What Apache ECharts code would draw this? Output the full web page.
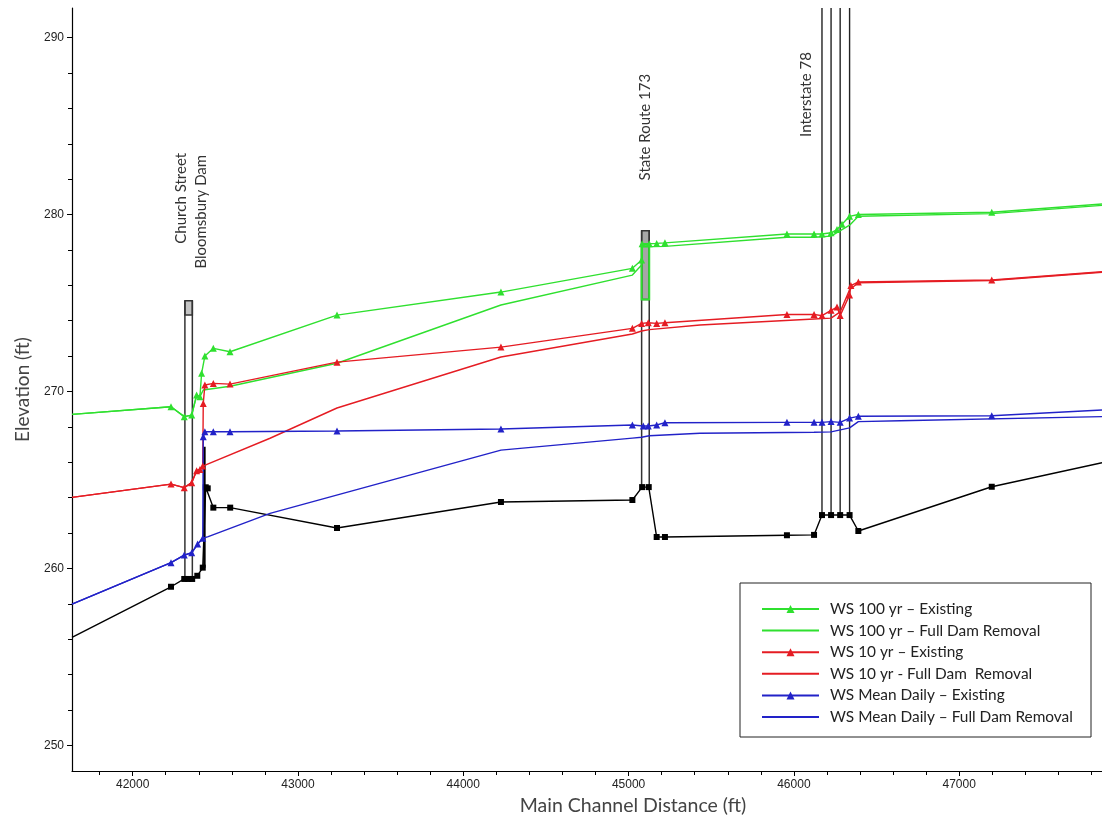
<!DOCTYPE html>
<html>
<head>
<meta charset="utf-8">
<script src="https://cdn.jsdelivr.net/npm/echarts@6/dist/echarts.min.js"></script>
<style>
  html, body { margin: 0; padding: 0; background: #ffffff; }
  #chart { width: 1102px; height: 823px; }
</style>
</head>
<body>
<div id="chart"></div>
<script>
// Axis extents (ft)
const X_MIN = 41633, X_MAX = 47864;
const Y_MIN = 248.56, Y_MAX = 291.67;

const xMajorTicks = [42000, 43000, 44000, 45000, 46000, 47000];
const xMinorTicks = [41800, 42200, 42400, 42600, 42800, 43200, 43400, 43600, 43800,
  44200, 44400, 44600, 44800, 45200, 45400, 45600, 45800, 46200, 46400, 46600, 46800,
  47200, 47400, 47600, 47800];
const yMajorTicks = [250, 260, 270, 280, 290];
const yMinorTicks = [252, 254, 256, 258, 262, 264, 266, 268, 272, 274, 276, 278,
  282, 284, 286, 288];

// Profile lines: [main channel distance (ft), elevation (ft)]
const channelBed = [[41633,256.11],[42232,258.97],[42312,259.41],[42336,259.41],[42360,259.41],
  [42391,259.59],[42424,260.05],[42442,264.59],[42454,264.53],[42488,263.44],[42590,263.44],
  [43236,262.29],[44228,263.76],[45023,263.87],[45082,264.6],[45122,264.6],[45170,261.78],
  [45220,261.78],[45958,261.88],[46122,261.9],[46170,263.02],[46225,263.02],[46280,263.02],
  [46337,263.02],[46390,262.12],[47197,264.62],[47864,265.98]];

const ws100Existing = [[41633,268.71],[42232,269.14],[42312,268.58],[42357,268.67],[42387,269.8],
  [42407,269.71],[42417,271.03],[42437,272.01],[42488,272.44],[42589,272.25],[43236,274.32],
  [44228,275.62],[45023,276.96],[45079,277.43],[45082,278.35],[45125,278.35],[45170,278.37],
  [45220,278.4],[45958,278.9],[46122,278.9],[46170,278.9],[46225,278.97],[46261,279.15],
  [46291,279.45],[46337,279.9],[46390,280.0],[47197,280.13],[47864,280.6]];

const ws100Removal = [[41633,268.71],[42232,269.14],[42312,268.58],[42357,268.67],[42387,269.8],
  [42407,269.71],[42427,270.09],[42589,270.3],[43236,271.6],[44228,274.89],[45023,276.58],
  [45079,277.15],[45082,278.18],[45220,278.2],[45958,278.72],[46122,278.72],[46225,278.78],
  [46337,279.4],[46390,279.9],[47197,280.05],[47864,280.52]];

const ws10Existing = [[41633,264.02],[42232,264.77],[42312,264.57],[42357,264.85],[42387,265.53],
  [42407,265.6],[42424,265.79],[42427,269.33],[42437,270.37],[42488,270.46],[42589,270.42],
  [43236,271.66],[44228,272.51],[45023,273.57],[45079,273.85],[45119,273.89],[45170,273.85],
  [45220,273.89],[45958,274.35],[46122,274.35],[46170,274.29],[46225,274.59],[46261,274.77],
  [46280,274.29],[46337,275.46],[46345,275.99],[46390,276.19],[47197,276.3],[47864,276.77]];

const ws10Removal = [[41633,264.02],[42232,264.77],[42312,264.57],[42357,264.85],[42387,265.53],
  [42407,265.6],[42424,265.79],[42831,267.36],[43236,269.07],[44228,271.95],[45023,273.25],
  [45079,273.42],[45125,273.5],[45432,273.76],[46122,274.1],[46225,274.15],[46280,274.5],
  [46337,275.75],[46390,276.15],[47197,276.27],[47864,276.74]];

const wsMeanExisting = [[41633,257.99],[42232,260.33],[42312,260.76],[42357,260.89],[42393,261.38],
  [42424,261.71],[42427,267.45],[42437,267.73],[42488,267.73],[42589,267.73],[43236,267.77],
  [44228,267.88],[45023,268.11],[45089,268.05],[45119,268.05],[45170,268.11],[45220,268.24],
  [45958,268.26],[46122,268.26],[46170,268.26],[46225,268.3],[46280,268.26],[46337,268.5],
  [46390,268.6],[47197,268.63],[47864,268.96]];

const wsMeanRemoval = [[41633,257.99],[42232,260.33],[42312,260.76],[42357,260.89],[42393,261.38],
  [42424,261.71],[42457,261.8],[42831,263.12],[44228,266.69],[45023,267.37],[45079,267.42],
  [45125,267.5],[45432,267.64],[46122,267.7],[46225,267.72],[46337,267.95],[46390,268.3],
  [46642,268.35],[47864,268.58]];

// Structures
// bridge: [upstream face, downstream face, top of deck, low chord, ground]
const bridgeDecks = [[42316, 42361, 275.13, 274.32, 259.41], [45079, 45125, 279.09, 275.2, 264.6]];
// water surface inside State Route 173 bridge: [face 1, face 2, top, bottom]
const sr173Water = [[45079, 45125, 278.3, 275.2]];
// Interstate 78 faces, standing on the ground at the crossing
const i78Faces = [[46170, 263.02], [46225, 263.02], [46280, 263.02], [46337, 263.02]];
// Bloomsbury Dam crest line
const damLine = [[42434, 260.05], [42434, 266.88]];

const structureNames = ['Church Street', 'Bloomsbury Dam', 'State Route 173', 'Interstate 78'];
const structureLabelPos = [[42296, 280.92], [42417, 280.16], [45099, 284.94], [46073, 286.78]];

const seriesNames = [
  'WS 100 yr \u2013 Existing',
  'WS 100 yr \u2013 Full Dam Removal',
  'WS 10 yr \u2013 Existing',
  'WS 10 yr - Full Dam  Removal',
  'WS Mean Daily \u2013 Existing',
  'WS Mean Daily \u2013 Full Dam Removal'
];

const GREEN = '#2fe02f', RED = '#e51c23', BLUE = '#2222c8';
const UI_FONT = 'Lato, "Open Sans", sans-serif';
const TICK_FONT = '"Liberation Sans", Arial, sans-serif';

function profile(name, data, color, marker, z, size) {
  return {
    type: 'line', name: name, z: z,
    data: data.map((p, i) => (i === 0 || i === data.length - 1) ? { value: p, symbol: 'none' } : p),
    symbol: marker || 'none', symbolSize: size || 7, showSymbol: !!marker,
    lineStyle: { color: color, width: 1.4 }, itemStyle: { color: color },
    emphasis: { disabled: true }, animation: false, clip: true
  };
}

// legend entries: plain line for the dam-removal runs
const legendItems = seriesNames.map((n, i) => (i % 2 === 1) ? { name: n, itemStyle: { opacity: 0 } } : { name: n });

const chart = echarts.init(document.getElementById('chart'), null, { renderer: 'canvas' });

chart.setOption({
  animation: false,
  backgroundColor: '#ffffff',
  grid: { left: 72, right: 0, top: 8, bottom: 52, containLabel: false },
  xAxis: [{
    type: 'value', min: X_MIN, max: X_MAX,
    axisLine: { show: true, lineStyle: { color: '#000', width: 1.2 } },
    axisTick: { show: true, length: 5, customValues: xMajorTicks, lineStyle: { color: '#000' } },
    axisLabel: { customValues: xMajorTicks, margin: 8, color: '#222', fontSize: 12,
      fontFamily: TICK_FONT, formatter: (v) => String(v) },
    splitLine: { show: false }
  }, {
    type: 'value', min: X_MIN, max: X_MAX, position: 'bottom',
    axisLine: { show: false },
    axisTick: { show: true, length: 4, customValues: xMinorTicks, lineStyle: { color: '#000' } },
    axisLabel: { show: false }, splitLine: { show: false }
  }],
  yAxis: [{
    type: 'value', min: Y_MIN, max: Y_MAX,
    name: 'Elevation (ft)', nameLocation: 'middle', nameGap: 40, nameRotate: 90,
    nameTextStyle: { fontFamily: UI_FONT, fontSize: 19, color: '#444' },
    axisLine: { show: true, lineStyle: { color: '#000', width: 1.2 } },
    axisTick: { show: true, length: 5, customValues: yMajorTicks, lineStyle: { color: '#000' } },
    axisLabel: { customValues: yMajorTicks, margin: 8, color: '#222', fontSize: 12,
      fontFamily: TICK_FONT, formatter: (v) => String(v) },
    splitLine: { show: false }
  }, {
    type: 'value', min: Y_MIN, max: Y_MAX, position: 'left',
    axisLine: { show: false },
    axisTick: { show: true, length: 4, customValues: yMinorTicks, lineStyle: { color: '#000' } },
    axisLabel: { show: false }, splitLine: { show: false }
  }],
  legend: {
    data: legendItems, orient: 'vertical', left: 756, top: 596,
    itemWidth: 57, itemHeight: 10, itemGap: 5.6, selectedMode: false, z: 20,
    textStyle: { fontFamily: UI_FONT, fontSize: 15.4, color: '#222', lineHeight: 16, padding: [0, 0, 0, 6] }
  },
  graphic: [
    { type: 'rect', z: 15, shape: { x: 740, y: 583, width: 351, height: 154 },
      style: { fill: '#ffffff', stroke: '#222', lineWidth: 1 } },
    { type: 'text', z: 15, x: 633, y: 806,
      style: { text: 'Main Channel Distance (ft)', fontFamily: UI_FONT, fontSize: 19.5, fill: '#444',
        align: 'center', verticalAlign: 'middle' } }
  ],
  series: [
    {
      type: 'custom', name: 'bridges', z: 1, silent: true, animation: false,
      data: bridgeDecks,
      encode: { x: [0, 1], y: [2, 3, 4] },
      renderItem: function (params, api) {
        const a = api.coord([api.value(0), api.value(2)]);
        const b = api.coord([api.value(1), api.value(3)]);
        const g = api.coord([api.value(0), api.value(4)]);
        const b2 = api.coord([api.value(1), api.value(4)]);
        return {
          type: 'group', children: [
            { type: 'rect', shape: { x: a[0], y: a[1], width: b[0] - a[0], height: b[1] - a[1] },
              style: { fill: params.dataIndex === 0 ? '#c4c4c4' : '#a6a6a6', stroke: '#333', lineWidth: 1.5 } },
            { type: 'line', shape: { x1: a[0], y1: a[1], x2: g[0], y2: g[1] }, style: { stroke: '#333', lineWidth: 1.5 } },
            { type: 'line', shape: { x1: b[0], y1: a[1], x2: b2[0], y2: b2[1] }, style: { stroke: '#333', lineWidth: 1.5 } }
          ]
        };
      }
    },
    {
      type: 'custom', name: 'sr173 water', z: 3, silent: true, animation: false,
      data: sr173Water,
      encode: { x: [0, 1], y: [2, 3] },
      renderItem: function (params, api) {
        const a = api.coord([api.value(0), api.value(2)]);
        const b = api.coord([api.value(1), api.value(3)]);
        return { type: 'rect', shape: { x: a[0], y: a[1], width: b[0] - a[0], height: b[1] - a[1] },
          style: { fill: 'none', stroke: GREEN, lineWidth: 2 } };
      }
    },
    {
      type: 'custom', name: 'i78', z: 1, silent: true, animation: false,
      data: i78Faces,
      encode: { x: 0, y: 1 },
      renderItem: function (params, api) {
        const g = api.coord([api.value(0), api.value(1)]);
        const t = api.coord([api.value(0), Y_MAX]);
        return { type: 'line', shape: { x1: g[0], y1: g[1], x2: t[0], y2: t[1] },
          style: { stroke: '#222', lineWidth: 1.4 } };
      }
    },
    {
      type: 'line', name: 'dam', z: 2, data: damLine, symbol: 'none',
      lineStyle: { color: '#000', width: 2.5 }, animation: false, silent: true
    },
    {
      type: 'custom', name: 'labels', z: 4, silent: true, animation: false,
      data: structureLabelPos,
      encode: { x: 0, y: 1 },
      renderItem: function (params, api) {
        const p = api.coord([api.value(0), api.value(1)]);
        return { type: 'text', x: p[0], y: p[1], rotation: Math.PI / 2,
          style: { text: structureNames[params.dataIndex], fontFamily: UI_FONT, fontSize: 15,
            fill: '#333', align: 'center', verticalAlign: 'middle' } };
      }
    },
    profile('channel bed', channelBed, '#000000', 'rect', 5, 6),
    profile(seriesNames[1], ws100Removal, GREEN, null, 6),
    profile(seriesNames[3], ws10Removal, RED, null, 6),
    profile(seriesNames[5], wsMeanRemoval, BLUE, null, 6),
    profile(seriesNames[0], ws100Existing, GREEN, 'triangle', 7),
    profile(seriesNames[2], ws10Existing, RED, 'triangle', 7),
    profile(seriesNames[4], wsMeanExisting, BLUE, 'triangle', 7)
  ]
});
</script>
</body>
</html>
